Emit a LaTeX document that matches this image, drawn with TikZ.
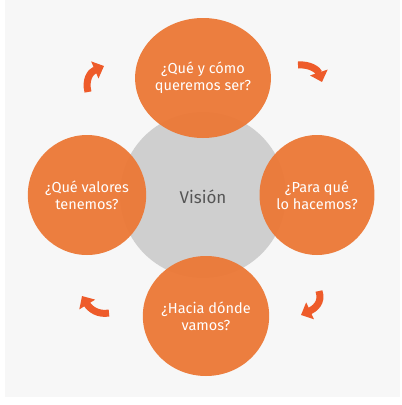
\documentclass[tikz,border=0pt]{standalone}
\usepackage{fontspec}
\setmainfont{Fira Sans}
\usetikzlibrary{arrows.meta,shapes.geometric}
\definecolor{bgc}{HTML}{F7F7F7}
\definecolor{orc}{HTML}{EC7836}
\definecolor{arc}{HTML}{EE5B2A}
\definecolor{grc}{HTML}{CFCFCF}
\definecolor{txg}{HTML}{555555}
\tikzset{
  qcirc/.style={ellipse, minimum width=112pt, minimum height=120pt, fill=orc, fill opacity=0.95, text opacity=1, text=white, align=center, font=\fontsize{14.5}{17}\selectfont, inner sep=0pt},
  cyc/.style={draw=arc, line width=7pt, -{Triangle[width=18pt,length=10pt]}}
}
\begin{document}
\begin{tikzpicture}[x=1pt,y=-1pt]
\useasboundingbox (0,0) rectangle (402,405);
\fill[white] (0,0) rectangle (402,405);
\fill[bgc] (5,0) rectangle (400,397);
\node[circle, fill=grc, minimum size=166pt, inner sep=0pt] (vis) at (203,195) {};
\node[text=txg, font=\fontsize{17}{20}\selectfont] (vtxt) at (203,197) {Visión};
\node[qcirc] (top) at (203,78) {¿Qué y cómo\\queremos ser?};
\node[qcirc] (right) at (317,195) {¿Para qué\\lo hacemos?};
\node[qcirc] (bottom) at (206,316) {¿Hacia dónde\\vamos?};
\node[qcirc] (left) at (87,195) {¿Qué valores\\tenemos?};
\coordinate (a1s) at (88,92);
\coordinate (a1e) at (104,66);
\coordinate (a2s) at (298,65);
\coordinate (a2e) at (322,82);
\coordinate (a3s) at (319,291);
\coordinate (a3e) at (301,315);
\coordinate (a4s) at (109,313);
\coordinate (a4e) at (82,296);
\draw[cyc] (a1s) .. controls (85,80) and (90,72) .. (a1e);
\draw[cyc] (a2s) .. controls (310,64) and (318,70) .. (a2e);
\draw[cyc] (a3s) .. controls (323,303) and (314,309) .. (a3e);
\draw[cyc] (a4s) .. controls (98,315) and (90,309) .. (a4e);
\end{tikzpicture}
\end{document}
